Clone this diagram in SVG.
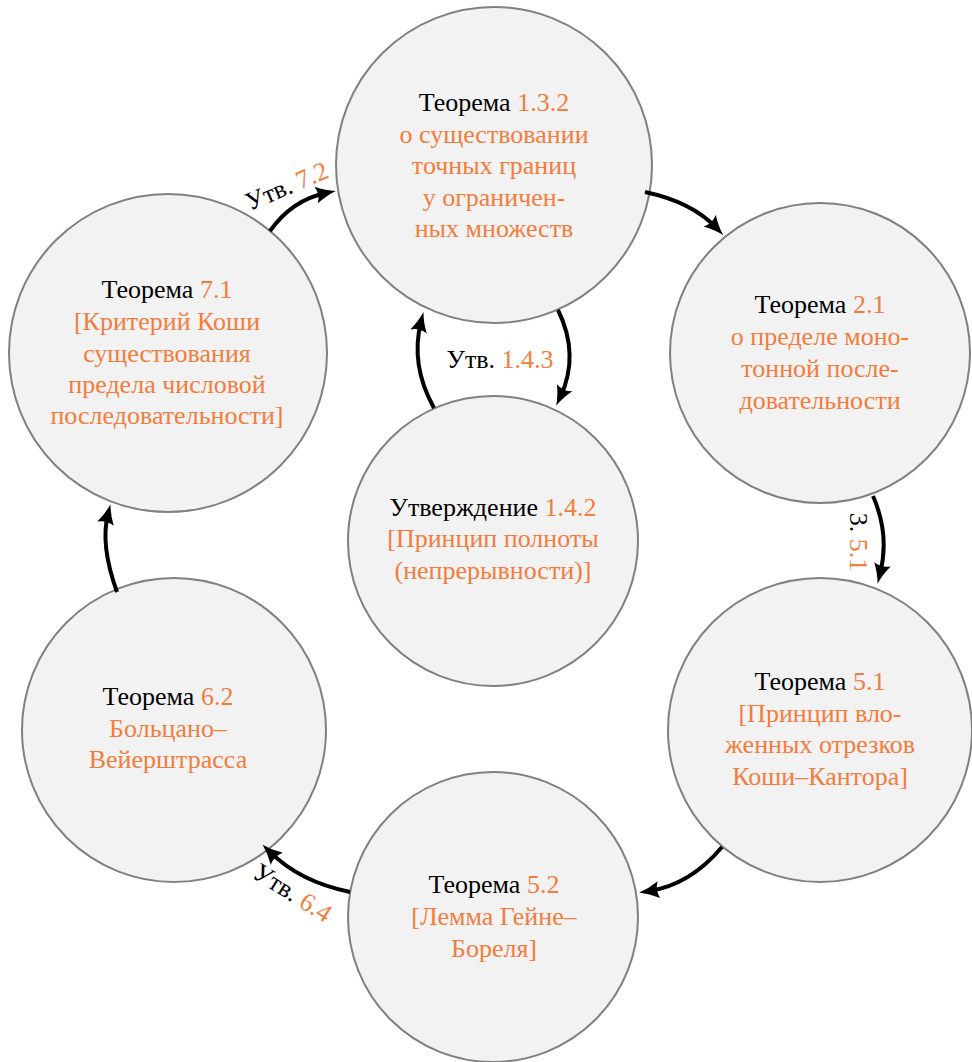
<svg xmlns="http://www.w3.org/2000/svg" width="972" height="1062" viewBox="0 0 972 1062">
<style>
.node circle{fill:#f2f2f2;stroke:#808080;stroke-width:2}
text{font-family:"Liberation Serif","DejaVu Serif",serif;font-size:26px;fill:#000;text-anchor:middle}
.o{fill:#f47c3c}
.edge{fill:none;stroke:#000;stroke-width:4;marker-end:url(#ah)}
</style>
<defs>
<marker id="ah" markerUnits="userSpaceOnUse" orient="auto" refX="0" refY="0" markerWidth="30" markerHeight="30" viewBox="-15 -15 30 30" overflow="visible">
<path d="M10,0 Q0,-2.5 -10,-8.5 Q-6,0 -10,8.5 Q0,2.5 10,0 Z" fill="#000"/>
</marker>
</defs>
<g id="n-top" class="node">
<circle cx="494" cy="165" r="158"/>
<text x="494" y="111">Теорема <tspan class="o">1.3.2</tspan></text>
<text x="494" y="143" class="o">о существовании</text>
<text x="494" y="174" class="o">точных границ</text>
<text x="494" y="206" class="o">у ограничен-</text>
<text x="494" y="237" class="o">ных множеств</text>
</g>
<g id="n-ru" class="node">
<circle cx="820" cy="353" r="150"/>
<text x="820" y="313">Теорема <tspan class="o">2.1</tspan></text>
<text x="820" y="345" class="o">о пределе моно-</text>
<text x="820" y="377" class="o">тонной после-</text>
<text x="820" y="409" class="o">довательности</text>
</g>
<g id="n-rl" class="node">
<circle cx="820" cy="730" r="152"/>
<text x="820" y="690">Теорема <tspan class="o">5.1</tspan></text>
<text x="820" y="722" class="o">[Принцип вло-</text>
<text x="820" y="753" class="o">женных отрезков</text>
<text x="820" y="785" class="o">Коши–Кантора]</text>
</g>
<g id="n-c" class="node">
<circle cx="493" cy="541" r="145"/>
<text x="493" y="516">Утверждение <tspan class="o">1.4.2</tspan></text>
<text x="493" y="547" class="o">[Принцип полноты</text>
<text x="493" y="579" class="o">(непрерывности)]</text>
</g>
<g id="n-b" class="node">
<circle cx="493" cy="917" r="145"/>
<text x="494" y="893">Теорема <tspan class="o">5.2</tspan></text>
<text x="494" y="925" class="o">[Лемма Гейне–</text>
<text x="494" y="957" class="o">Бореля]</text>
</g>
<g id="n-ll" class="node">
<circle cx="174" cy="730" r="152"/>
<text x="168" y="705">Теорема <tspan class="o">6.2</tspan></text>
<text x="168" y="737" class="o">Больцано–</text>
<text x="168" y="768" class="o">Вейерштрасса</text>
</g>
<g id="n-lu" class="node">
<circle cx="168" cy="353" r="159"/>
<text x="167" y="298">Теорема <tspan class="o">7.1</tspan></text>
<text x="167" y="330" class="o">[Критерий Коши</text>
<text x="167" y="362" class="o">существования</text>
<text x="167" y="393" class="o">предела числовой</text>
<text x="167" y="424" class="o">последовательности]</text>
</g>
<g id="connectors">
<path class="edge" d="M645,192 Q692,202 716.5,228"/>
<path class="edge" d="M873,496 Q890,535 880,574"/>
<path class="edge" d="M722,847 Q690,885 649,891"/>
<path class="edge" d="M350,892 Q300,882 269.7,851.7"/>
<path class="edge" d="M117,592 Q100,545 108,514"/>
<path class="edge" d="M270,231 Q292,200 326,193"/>
<path class="edge" d="M558,310 Q580,355 560.4,396.8"/>
<path class="edge" d="M434,408 Q410,365 421,321.8"/>
<text x="500" y="368">Утв. <tspan class="o">1.4.3</tspan></text>
<text transform="translate(850,542) rotate(90)">3. <tspan class="o">5.1</tspan></text>
<text transform="translate(290,194) rotate(-23)">Утв. <tspan class="o">7.2</tspan></text>
<text transform="translate(288,900) rotate(32)">Утв. <tspan class="o">6.4</tspan></text>
</g>
</svg>
